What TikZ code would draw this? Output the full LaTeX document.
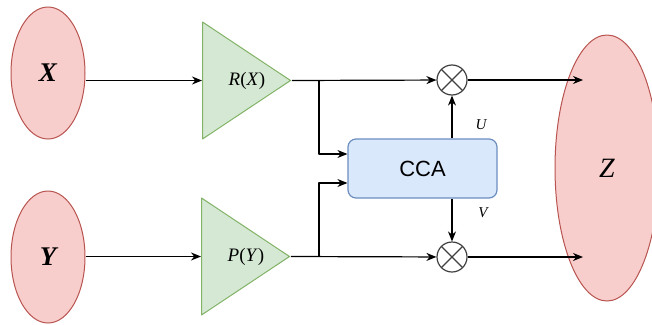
\documentclass[tikz,border=0pt]{standalone}
\usepackage{fontspec}
\setmainfont{Liberation Serif}
\setsansfont{Liberation Sans}
\usetikzlibrary{shapes.geometric,arrows.meta,positioning,calc}
\definecolor{varfill}{HTML}{F8CECC}
\definecolor{varline}{HTML}{B85450}
\definecolor{ampfill}{HTML}{D5E8D4}
\definecolor{ampline}{HTML}{82B366}
\definecolor{ccafill}{HTML}{DAE8FC}
\definecolor{ccaline}{HTML}{6C8EBF}
\begin{document}
\begin{tikzpicture}[x=1pt, y=-1pt, line width=1.2pt, line join=round, >={Stealth[length=10pt,width=8pt]},
    var/.style={ellipse, draw=varline, fill=varfill, line width=1pt, inner sep=0pt, minimum width=74pt, minimum height=132pt},
    amp/.style={isosceles triangle, isosceles triangle stretches, shape border rotate=0, draw=ampline, fill=ampfill,
      line width=1pt, inner sep=0pt, minimum width=117pt, minimum height=88pt},
    amptext/.style={font=\fontsize{19}{19}\selectfont, inner sep=0pt},
    mult/.style={circle, draw=black!75, fill=white, minimum size=30pt, inner sep=0pt,
      path picture={\draw[black!75] (path picture bounding box.north west) -- (path picture bounding box.south east)
        (path picture bounding box.north east) -- (path picture bounding box.south west);}},
    cca/.style={rectangle, rounded corners=8pt, draw=ccaline, fill=ccafill, minimum width=149pt, minimum height=59pt,
      font=\sffamily\fontsize{22}{22}\selectfont},
    lbl/.style={font=\fontsize{15}{15}\selectfont\itshape, inner sep=0pt}]
 \useasboundingbox (0,0) rectangle (652,324);
 % inputs and output
 \node[var] (X) at (48,73) {\fontsize{27}{27}\selectfont\bfseries\itshape X};
 \node[var] (Y) at (48,257) {\fontsize{27}{27}\selectfont\bfseries\itshape Y};
 \node[var, minimum width=104pt, minimum height=266pt] (Z) at (607,168) {\fontsize{28}{28}\selectfont\itshape Z};
 % projections
 \node[amp, anchor=lower side] (R) at (202,80.5) {};
 \node[amp, anchor=lower side] (P) at (201,256.5) {};
 \node[amptext] (Rt) at ($(R.lower side)!0.5!(R.apex)$) {\textit{R}(\textit{X})};
 \node[amptext] (Pt) at ($(P.lower side)!0.5!(P.apex)$) {\textit{P}(\textit{Y})};
 \node[cca] (C) at (422.5,168.5) {CCA};
 \node[mult] (M1) at (452,80) {};
 \node[mult] (M2) at (452,257) {};
 \node[lbl] (U) at (481,125) {U};
 \node[lbl] (V) at (483,213) {V};
 \coordinate (jr) at (319,80);
 \coordinate (jp) at (319,257);
 \coordinate (zr) at (583,80);
 \coordinate (zp) at (583,257);
 \draw[->] (X.east |- R.lower side) -- (R.lower side);
 \draw[->] (Y.east |- P.lower side) -- (P.lower side);
 \draw[->] (R.apex) -- (M1);
 \draw[->] (P.apex) -- (M2);
 \draw[->] (jr) |- ([yshift=14.5pt]C.west);
 \draw[->] (jp) |- ([yshift=-14.5pt]C.west);
 \draw[->] (C.north -| M1) -- (M1);
 \draw[->] (C.south -| M2) -- (M2);
 \draw[->] (M1) -- (zr);
 \draw[->] (M2) -- (zp);
\end{tikzpicture}
\end{document}
